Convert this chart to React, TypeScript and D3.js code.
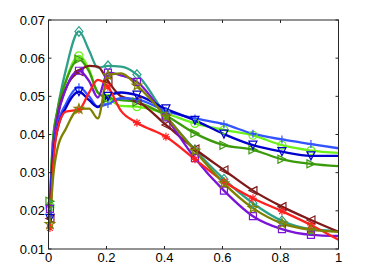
import * as d3 from 'd3';

// shared sample positions (markers sit on some of them)
const X = [0.005, 0.015, 0.03, 0.06, 0.105, 0.14, 0.17, 0.205, 0.25, 0.305, 0.405, 0.505, 0.605, 0.705, 0.805, 0.905, 1.0];
const MARKER_IDX = [0, 4, 7, 9, 10, 11, 12, 13, 14, 15];

const tealY = [0.0215, 0.038, 0.046, 0.057, 0.067, 0.062, 0.0575, 0.058, 0.0578, 0.0557, 0.045, 0.036, 0.0283, 0.022, 0.0174, 0.0152, 0.0147];
const limeY = [0.021, 0.037, 0.045, 0.054, 0.0606, 0.057, 0.051, 0.0495, 0.0475, 0.0473, 0.0455, 0.0429, 0.0412, 0.0398, 0.0372, 0.0358, 0.0352];
const greenY = [0.0225, 0.038, 0.046, 0.054, 0.0597, 0.0565, 0.051, 0.0495, 0.049, 0.0485, 0.045, 0.0403, 0.0372, 0.036, 0.0335, 0.0323, 0.0317];
const maroonY = [0.018, 0.034, 0.044, 0.052, 0.0565, 0.058, 0.0578, 0.054, 0.05, 0.0488, 0.0425, 0.0362, 0.0307, 0.0253, 0.0211, 0.0176, 0.0145];
const purpleY = [0.0205, 0.036, 0.044, 0.052, 0.0567, 0.054, 0.0497, 0.0562, 0.0555, 0.0538, 0.0445, 0.0338, 0.0253, 0.0186, 0.0152, 0.0137, 0.0134];
const blueY = [0.019, 0.034, 0.042, 0.048, 0.0524, 0.05, 0.0473, 0.048, 0.0495, 0.0492, 0.0462, 0.0442, 0.0427, 0.0402, 0.0387, 0.0375, 0.0364];
const navyY = [0.018, 0.033, 0.041, 0.047, 0.0512, 0.049, 0.0472, 0.05, 0.051, 0.0503, 0.0467, 0.0437, 0.0401, 0.0372, 0.0355, 0.0344, 0.0344];
const redY = [0.0155, 0.031, 0.041, 0.046, 0.0465, 0.051, 0.0543, 0.0525, 0.0462, 0.0431, 0.0394, 0.0335, 0.0277, 0.0233, 0.0199, 0.0163, 0.0124];
const oliveY = [0.0165, 0.028, 0.036, 0.0415, 0.0467, 0.0468, 0.0442, 0.0555, 0.056, 0.0528, 0.0447, 0.0357, 0.0272, 0.0207, 0.0167, 0.015, 0.0145];

const SERIES = [
  { y: tealY, color: '#2ca089', marker: 'diamond' },
  { y: limeY, color: '#6cf01a', marker: 'circle' },
  { y: greenY, color: '#3a9a0a', marker: 'triRight' },
  { y: maroonY, color: '#801a1a', marker: 'triLeft' },
  { y: purpleY, color: '#7a14d8', marker: 'square' },
  { y: blueY, color: '#3355ff', marker: 'plus' },
  { y: navyY, color: '#0000cc', marker: 'triDown' },
  { y: redY, color: '#ff2020', marker: 'asterisk' },
  { y: oliveY, color: '#808000', marker: 'star' }
];

const X_TICKS = [0, 0.2, 0.4, 0.6, 0.8, 1];
const Y_TICKS = [0.01, 0.02, 0.03, 0.04, 0.05, 0.06, 0.07];

function markerPath(kind: string): string {
  const s = 4;
  switch (kind) {
    case 'diamond':
      return `M0,${-s * 1.2}L${s},0L0,${s * 1.2}L${-s},0Z`;
    case 'circle':
      return `M${s},0A${s},${s} 0 1,1 ${-s},0A${s},${s} 0 1,1 ${s},0Z`;
    case 'triRight':
      return `M${-s},${-s}L${s},0L${-s},${s}Z`;
    case 'triLeft':
      return `M${s},${-s}L${-s},0L${s},${s}Z`;
    case 'triDown':
      return `M${-s},${-s}L${s},${-s}L0,${s}Z`;
    case 'square':
      return `M${-3.5},${-3.5}H3.5V3.5H-3.5Z`;
    case 'plus':
      return `M${-s},0H${s}M0,${-s}V${s}`;
    case 'asterisk': {
      const d = s * 0.7;
      return `M${-s},0H${s}M0,${-s}V${s}M${-d},${-d}L${d},${d}M${-d},${d}L${d},${-d}`;
    }
    case 'star': {
      const pts: string[] = [];
      for (let i = 0; i < 10; i++) {
        const r = i % 2 === 0 ? 5 : 2;
        const a = -Math.PI / 2 + (i * Math.PI) / 5;
        pts.push(`${(r * Math.cos(a)).toFixed(2)},${(r * Math.sin(a)).toFixed(2)}`);
      }
      return 'M' + pts.join('L') + 'Z';
    }
  }
  return '';
}

export default function App() {
  const width = 374;
  const height = 280;
  const left = 48.5;
  const right = 338.5;
  const top = 20;
  const bottom = 249;
  const ink = '#262626';

  const x = d3.scaleLinear().domain([0, 1]).range([left, right]);
  const y = d3.scaleLinear().domain([0.01, 0.07]).range([bottom, top]);

  const line = d3
    .line<number>()
    .x((_d, i) => x(X[i]))
    .y((d) => y(d))
    .curve(d3.curveMonotoneX);

  return (
    <svg
      width={width}
      height={height}
      style={{ position: 'absolute', left: 0, top: 0, background: '#fff' }}
      fontFamily="'Liberation Sans', Arial, sans-serif"
    >
      <defs>
        <clipPath id="plot">
          <rect x={left} y={top} width={right - left} height={bottom - top} />
        </clipPath>
      </defs>
      <g clipPath="url(#plot)">
        {SERIES.map((s, k) => (
          <path key={k} d={line(s.y) ?? ''} fill="none" stroke={s.color} strokeWidth={2.3} />
        ))}
      </g>
      {SERIES.map((s, k) => (
        <g key={k}>
          {MARKER_IDX.map((i) => (
            <path
              key={i}
              d={markerPath(s.marker)}
              transform={`translate(${x(X[i])},${y(s.y[i])})`}
              fill="none"
              stroke={s.color}
              strokeWidth={1.2}
            />
          ))}
        </g>
      ))}
      <rect x={left} y={top} width={right - left} height={bottom - top} fill="none" stroke={ink} strokeWidth={1} />
      {X_TICKS.map((t) => (
        <g key={t}>
          <line x1={x(t)} x2={x(t)} y1={bottom} y2={bottom - 3} stroke={ink} />
          <line x1={x(t)} x2={x(t)} y1={top} y2={top + 3} stroke={ink} />
          <text x={x(t)} y={262} textAnchor="middle" fontSize={13} fill="#000">
            {t}
          </text>
        </g>
      ))}
      {Y_TICKS.map((t) => (
        <g key={t}>
          <line x1={left} x2={left + 3} y1={y(t)} y2={y(t)} stroke={ink} />
          <line x1={right} x2={right - 3} y1={y(t)} y2={y(t)} stroke={ink} />
          <text x={45} y={y(t) + 4.5} textAnchor="end" fontSize={13} fill="#000">
            {t.toFixed(2)}
          </text>
        </g>
      ))}
    </svg>
  );
}
